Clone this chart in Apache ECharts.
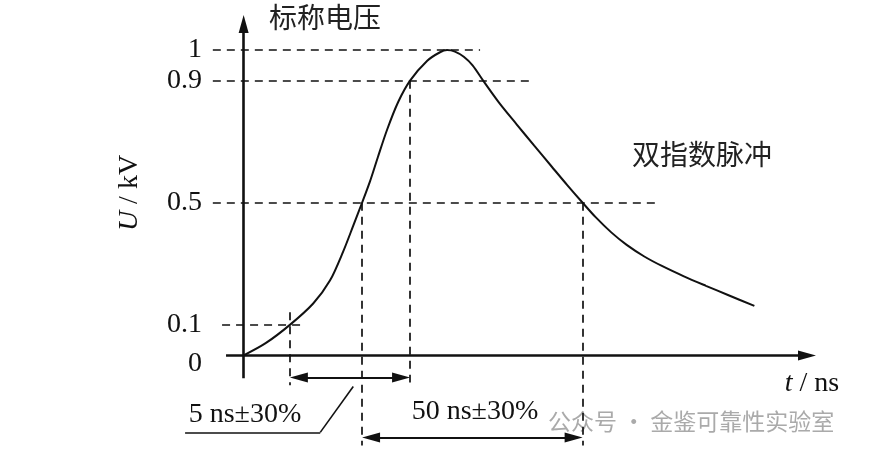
<!DOCTYPE html>
<html>
<head>
<meta charset="utf-8">
<script src="https://cdn.jsdelivr.net/npm/echarts@6/dist/echarts.min.js"></script>
<style>
  html, body { margin: 0; padding: 0; background: #fff; }
  #chart { width: 883px; height: 455px; }
</style>
</head>
<body>
<div id="chart"></div>
<script>
// ---- data ----
const timeNs = [0, 5, 10.5, 15.8, 19.6, 22.6, 24.9, 26.9, 28.7, 30.5, 32.6, 35.1, 37.8, 41.7, 44.6, 46.2, 48, 50, 52, 54.4, 58, 62, 66, 70, 73.5, 77, 80, 83.5, 87, 91, 95, 100, 105, 110, 116];
const voltageKV = [0, 0.04, 0.1, 0.17, 0.245, 0.34, 0.425, 0.5, 0.57, 0.65, 0.74, 0.83, 0.9, 0.965, 0.993, 1.0, 0.995, 0.978, 0.95, 0.9, 0.828, 0.757, 0.687, 0.618, 0.558, 0.5, 0.452, 0.403, 0.362, 0.324, 0.293, 0.259, 0.228, 0.198, 0.162];
const yTickValues = [0, 0.1, 0.5, 0.9, 1];
const levelValues = [1, 0.9, 0.5, 0.1];
const crossTimes = [10.5, 26.9, 37.8, 77]; // 10 %, 50 % rise, 90 %, 50 % fall
const riseLabel = '5 ns±30%';
const widthLabel = '50 ns±30%';
const curveName = '双指数脉冲';
const yTitle = '标称电压';

// ---- layout ----
const X_MIN = -14, X_MAX = 130, Y_MIN = -0.3, Y_MAX = 1.115;
const G = { left: 182, right: 67, top: 15, bottom: 8 };
const pxPerNs = (883 - G.left - G.right) / (X_MAX - X_MIN);
const pxPerU = (455 - G.top - G.bottom) / (Y_MAX - Y_MIN);
const nsOf = px => px / pxPerNs;
const uOf = px => px / pxPerU;

const [t10, t50r, t90, t50f] = crossTimes;
const headLen = 18, headW = 10;
const serif = '"Liberation Serif", "Times New Roman", serif';
const cjk = '"Noto Sans CJK SC", sans-serif';
const ink = '#111';

const seg = (a, b) => [{ coord: a }, { coord: b }];
const arrowSeg = (a, b, both) => [
  { coord: a, symbol: both ? 'triangle' : 'none', symbolSize: [headW, headLen] },
  { coord: b, symbol: 'triangle', symbolSize: [headW, headLen] }
];

// horizontal guide extents (left, right) in ns
const levelExtents = {1: [-7, 53.7], 0.9: [-7, 65], 0.5: [-7, 94.6], 0.1: [-4.9, 13.5]};

const guideLines = levelValues.map(v => seg([levelExtents[v][0], v], [levelExtents[v][1], v]))
  .concat([
    seg([t10, 0.141], [t10, -0.098]),
    seg([t50r, 0.5], [t50r, -0.295]),
    seg([t90, 0.9], [t90, -0.089]),
    seg([t50f, 0.5], [t50f, -0.295])
  ]);

const insetNs = nsOf(headLen / 2);
const dimArrows = [
  arrowSeg([t10 + insetNs, -0.072], [t90 - insetNs, -0.072], true),
  arrowSeg([t50r + insetNs, -0.269], [t50f - insetNs, -0.269], true)
];

const axisArrows = [
  arrowSeg([-4, 0], [X_MAX - nsOf(headLen / 2), 0], false),
  arrowSeg([0, -0.075], [0, Y_MAX - uOf(headLen / 2)], false)
];

const leader = [
  seg([24.9, -0.102], [17.4, -0.252]),
  seg([17.4, -0.252], [-13.3, -0.252])
];

const markSeries = (name, data, lineStyle) => ({
  name, type: 'line', data: [], silent: true,
  markLine: {
    silent: true, animation: false, symbol: 'none',
    label: { show: false }, emphasis: { disabled: true },
    lineStyle: Object.assign({ color: ink }, lineStyle),
    data
  }
});

const chart = echarts.init(document.getElementById('chart'), null, { renderer: 'canvas' });
chart.setOption({
  animation: false,
  backgroundColor: '#fff',
  grid: Object.assign({ containLabel: false }, G),
  xAxis: {
    type: 'value', min: X_MIN, max: X_MAX,
    axisLine: { show: false }, axisTick: { show: false },
    axisLabel: { show: false }, splitLine: { show: false }
  },
  yAxis: {
    type: 'value', min: Y_MIN, max: Y_MAX,
    axisLine: { show: false, onZero: false },
    axisTick: { show: false }, splitLine: { show: false },
    axisLabel: {
      customValues: yTickValues,
      margin: -20,
      align: 'right',
      color: ink, fontSize: 28, fontFamily: serif,
      formatter: v => v === 0 ? '{lo|0}' : '{n|' + v + '}',
      rich: {
        lo: { fontSize: 28, fontFamily: serif, color: ink, padding: [16, 0, 0, 0] },
        n: { fontSize: 28, fontFamily: serif, color: ink }
      }
    }
  },
  series: [
    markSeries('guides', guideLines, { type: [8, 6], width: 1.7 }),
    markSeries('axes', axisArrows, { type: 'solid', width: 2.6 }),
    markSeries('dims', dimArrows, { type: 'solid', width: 2 }),
    markSeries('leader', leader, { type: 'solid', width: 1.6 }),
    {
      name: curveName, type: 'line', smooth: 0.3, showSymbol: false, silent: true,
      lineStyle: { color: ink, width: 2 },
      data: timeNs.map((t, i) => [t, voltageKV[i]])
    }
  ],
  graphic: { elements: [
    { type: 'text', x: 325, y: 17, style: { text: yTitle, fontSize: 28, fontFamily: cjk, fill: '#222', align: 'center', verticalAlign: 'middle' } },
    { type: 'text', x: 702, y: 154, style: { text: curveName, fontSize: 28, fontFamily: cjk, fill: '#222', align: 'center', verticalAlign: 'middle' } },
    { type: 'text', x: 812, y: 384, style: { text: '{i|t} / ns', fontSize: 28, fontFamily: serif, fill: ink, align: 'center', verticalAlign: 'middle',
        rich: { i: { fontStyle: 'italic', fontSize: 28, fontFamily: serif, fill: ink } } } },
    { type: 'text', x: 130, y: 193, rotation: Math.PI / 2, style: { text: '{i|U} / kV', fontSize: 28, fontFamily: serif, fill: ink, align: 'center', verticalAlign: 'middle',
        rich: { i: { fontStyle: 'italic', fontSize: 28, fontFamily: serif, fill: ink } } } },
    { type: 'text', x: 245, y: 415, style: { text: riseLabel, fontSize: 28, fontFamily: serif, fill: ink, align: 'center', verticalAlign: 'middle' } },
    { type: 'text', x: 475, y: 412, style: { text: widthLabel, fontSize: 28, fontFamily: serif, fill: ink, align: 'center', verticalAlign: 'middle' } },
    { type: 'text', x: 548, y: 421, style: { text: '公众号 · 金鉴可靠性实验室', fontSize: 23, fontFamily: cjk, fill: '#aaa', align: 'left', verticalAlign: 'middle' } }
  ] }
});
</script>
</body>
</html>
